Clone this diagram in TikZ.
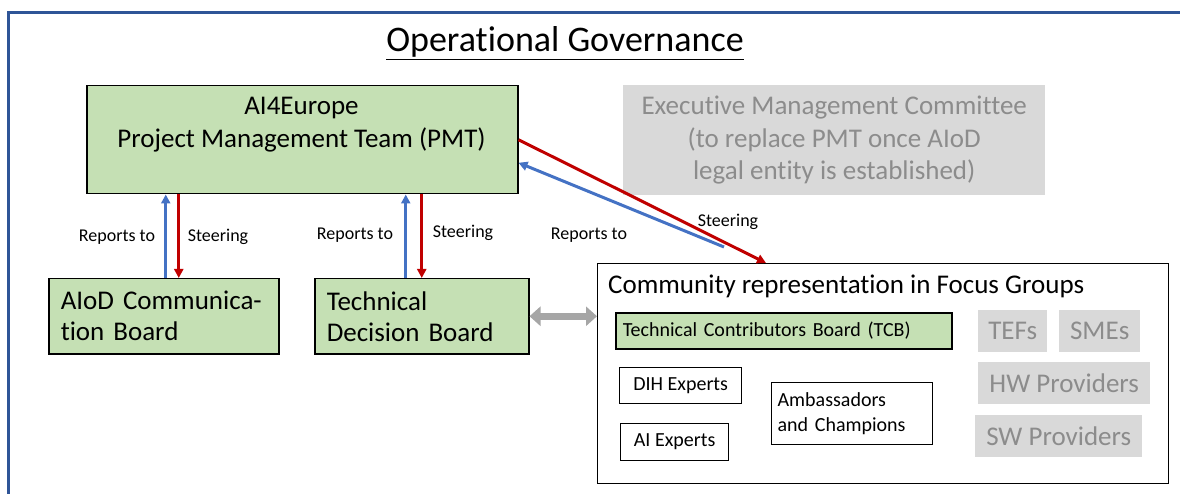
\documentclass[tikz,border=0pt]{standalone}
\usepackage{fontspec}
\setmainfont{Carlito}[Ligatures=NoCommon]
\usetikzlibrary{arrows.meta}
\definecolor{gfill}{HTML}{C5E0B4}
\definecolor{greybox}{HTML}{D9D9D9}
\definecolor{greytxt}{HTML}{8C8C8C}
\definecolor{redarr}{HTML}{C00000}
\definecolor{bluearr}{HTML}{4472C4}
\definecolor{framebl}{HTML}{2F5597}
\definecolor{dblarr}{HTML}{A6A6A6}
\newcommand\fttl{\fontsize{36}{42}\selectfont}
\newcommand\fbig{\fontsize{27}{31}\selectfont}
\newcommand\fpmt{\fontsize{27}{33}\selectfont}
\newcommand\fexe{\fontsize{27}{32.5}\selectfont}
\newcommand\fmid{\fontsize{20}{25}\selectfont}
\newcommand\fsml{\fontsize{18}{20}\selectfont}
\begin{document}
\begin{tikzpicture}[x=1pt,y=-1pt,
  greenbox/.style={draw=black, line width=1.5pt, fill=gfill, inner sep=0pt, anchor=north west},
  whitebox/.style={draw=black, line width=1.3pt, fill=white, inner sep=0pt, anchor=north west},
  greyfill/.style={fill=greybox, text=greytxt, inner sep=0pt, anchor=north west, font=\fbig},
  lbl/.style={font=\fsml, inner sep=0pt},
  rep/.style={draw=bluearr, line width=3pt, -{Triangle[length=9pt,width=9pt]}},
  steer/.style={draw=redarr, line width=3pt, -{Triangle[length=9pt,width=9pt]}},
  dbl/.style={draw=dblarr, line width=7pt, {Triangle[length=11pt,width=19pt]}-{Triangle[length=11pt,width=19pt]}}
]
\useasboundingbox (0,0) rectangle (1180,494);
% frame
\draw[framebl, line width=3pt] (8,494) -- (8,13) -- (1180,13);
% title
\node[font=\fttl, inner sep=0pt] (title) at (565,43) {\underline{Operational Governance}};
% PMT
\node[greenbox, minimum width=431, minimum height=108] (pmt) at (86,85) {};
\node[font=\fpmt, align=center, inner sep=0pt, anchor=center] (pmttxt) at (301.5,125) {AI4Europe\\Project Management Team (PMT)};
% Exec
\node[fill=greybox, text=greytxt, inner sep=0pt, anchor=north west, font=\fexe, align=center,
  minimum width=422, minimum height=110] (exec) at (623,85)
  {Executive Management Committee\\(to replace PMT once AIoD\\legal entity is established)};
% boards
\node[greenbox, minimum width=230, minimum height=75, text width=206, inner xsep=12, align=left, font=\fbig] (acb) at (48,278) {AIoD Communica-\\tion Board};
\node[greenbox, minimum width=214, minimum height=75, text width=190, inner xsep=12, align=left, font=\fbig] (tdb) at (314,278) {Technical\\Decision Board};
% community
\node[draw=black, line width=1.3pt, inner sep=0pt, anchor=north west, minimum width=571, minimum height=220] (fg) at (597,263) {};
\node[font=\fbig, anchor=west, inner sep=0pt] (fgtitle) at (608,286) {Community representation in Focus Groups};
\node[greenbox, minimum width=336, minimum height=36, text width=322, inner xsep=7, align=left, font=\fmid] (tcb) at (615,312) {Technical Contributors Board (TCB)};
\node[whitebox, minimum width=122, minimum height=36, font=\fmid] (dih) at (619,367) {DIH Experts};
\node[whitebox, minimum width=108, minimum height=37, font=\fmid] (aie) at (620,423) {AI Experts};
\node[whitebox, minimum width=161, minimum height=62, text width=149, inner xsep=6, align=left, font=\fmid] (amb) at (771,382) {Ambassadors\\and Champions};
\node[greyfill, minimum width=69, minimum height=42] (tef) at (978,310) {TEFs};
\node[greyfill, minimum width=81, minimum height=42] (sme) at (1059,310) {SMEs};
\node[greyfill, minimum width=172, minimum height=42] (hw) at (978,362) {HW Providers};
\node[greyfill, minimum width=167, minimum height=42] (sw) at (975,415) {SW Providers};
% vertical arrows
\coordinate (a1) at ([xshift=2]acb.north);
\coordinate (a2) at ([xshift=15]acb.north);
\coordinate (t1) at ([xshift=-16]tdb.north);
\coordinate (t2) at ([xshift=0]tdb.north);
\draw[rep] (a1) -- (a1 |- pmt.south);
\draw[steer] (a2 |- pmt.south) -- (a2);
\draw[rep] (t1) -- (t1 |- pmt.south);
\draw[steer] (t2 |- pmt.south) -- (t2);
\node[lbl] (l1) at (117,237) {Reports to};
\node[lbl] (l2) at (218,237) {Steering};
\node[lbl] (l3) at (355,235) {Reports to};
\node[lbl] (l4) at (463,233) {Steering};
% diagonal arrows
\coordinate (fgtip) at ([xshift=169]fg.north west);
\coordinate (bstart) at (724,247);
\draw[steer] (pmt.east) -- (fgtip);
\draw[rep] (bstart) -- ([yshift=-23]pmt.east);
\node[lbl] (l5) at (589,235) {Reports to};
\node[lbl] (l6) at (728,222) {Steering};
% double arrow
\draw[dbl] (tdb.east) -- (tdb.east -| fg.west);
\end{tikzpicture}
\end{document}
